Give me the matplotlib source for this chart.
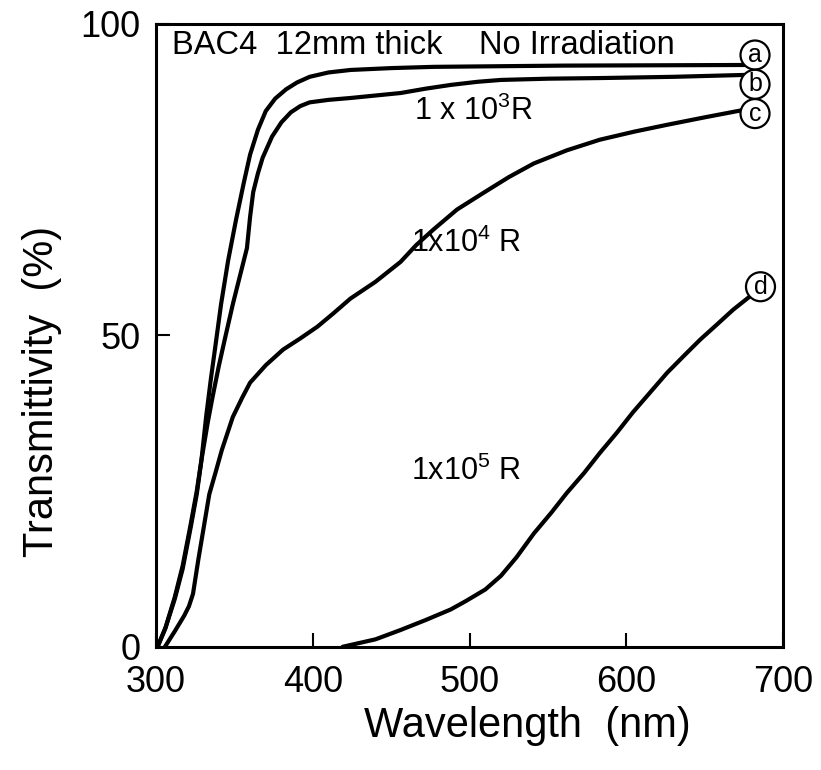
import matplotlib
matplotlib.use("Agg")
import matplotlib.pyplot as plt

FACE = "Liberation Sans"
plt.rcParams["font.family"] = [FACE, "DejaVu Sans"]
plt.rcParams["mathtext.fontset"] = "custom"
plt.rcParams["mathtext.rm"] = FACE
plt.rcParams["mathtext.it"] = FACE
plt.rcParams["mathtext.default"] = "rm"

# Transmission spectra of BAC4 glass (12 mm) after different gamma doses
wl_a = [301, 306, 312, 317, 322, 326, 329, 332, 335, 338, 341.5, 346, 351, 356, 360, 365,
        370, 376, 383, 390, 398, 410, 424, 450, 477, 560, 676]
tr_a = [0, 3, 8, 13, 19.5, 25, 30, 37, 43, 48.5, 55, 62, 68.5, 74.5, 79, 83,
        86, 88, 89.5, 90.6, 91.5, 92.2, 92.6, 92.9, 93.1, 93.3, 93.4]

wl_b = [301, 306, 312, 317, 322, 326, 329, 333, 336, 340, 344, 349, 354, 358, 360, 362,
        365, 368, 374, 380, 386, 392, 398, 410, 424, 440, 456, 472, 488, 505, 520, 550,
        583, 630, 675]
tr_b = [0, 3, 7.7, 12.5, 19, 24.5, 30, 36, 40, 45, 49.5, 55, 60, 64, 69, 73,
        76, 78.5, 81.9, 84.2, 85.8, 86.8, 87.4, 87.8, 88.1, 88.5, 88.9, 89.6, 90.2, 90.7, 91.0, 91.2,
        91.3, 91.5, 91.8]

wl_c = [305.7, 312, 318, 321, 323.6, 327, 330, 334, 338, 342, 349, 355, 360, 370, 381,
        392, 403, 413, 424, 440, 456, 466, 477, 492, 509, 525, 541, 562, 583, 605,
        626, 650, 675]
tr_c = [0, 2.5, 5, 6.5, 8.5, 14, 18.5, 24.5, 28, 31.6, 36.9, 40, 42.4, 45.2, 47.7,
        49.5, 51.4, 53.5, 55.9, 58.6, 61.8, 64.5, 67.0, 70.2, 72.9, 75.4, 77.6, 79.7, 81.4, 82.7,
        83.8, 85.0, 86.2]

wl_d = [419, 440, 456, 472, 488, 498, 510, 520, 530, 541, 552, 562, 573, 583, 594,
        604, 615, 626, 637, 647, 658, 668, 680]
tr_d = [0, 1.2, 2.7, 4.3, 6, 7.4, 9.2, 11.4, 14.4, 18.2, 21.5, 24.7, 27.9, 31.1, 34.4,
        37.6, 40.8, 44, 46.8, 49.3, 51.8, 54.1, 56.5]

curve_keys = ["a", "b", "c", "d"]
key_pos = [(682, 95.0), (682, 90.3), (682, 85.6), (685.5, 57.8)]

dose_labels = ["1 x 10$^{3}$R", "1x10$^{4}$ R", "1x10$^{5}$ R"]
dose_pos = [(502.6, 85.9), (497.6, 64.8), (497.6, 28.1)]

x_ticks = [300, 400, 500, 600, 700]
y_ticks = [0, 50, 100]

fig = plt.figure(figsize=(8.21, 7.70), dpi=100)
ax = fig.add_axes([0.190, 0.160, 0.764, 0.809])

for wl, tr in [(wl_a, tr_a), (wl_b, tr_b), (wl_c, tr_c), (wl_d, tr_d)]:
    ax.plot(wl, tr, color="black", lw=3.0, solid_capstyle="round",
            solid_joinstyle="round")

for key, (x, y) in zip(curve_keys, key_pos):
    ax.text(x, y, key, ha="center", va="center", fontsize=18,
            bbox=dict(boxstyle="circle,pad=0.1", fc="white", ec="black", lw=1.6),
            zorder=5)

for lab, (x, y) in zip(dose_labels, dose_pos):
    ax.text(x, y, lab, ha="center", va="center", fontsize=22)

ax.text(310, 96.6, "BAC4  12mm thick    No Irradiation", ha="left", va="center",
        fontsize=23.5)

ax.set_xlim(300, 700)
ax.set_ylim(0, 100)
ax.set_xticks(x_ticks)
ax.set_yticks(y_ticks)
ax.tick_params(direction="in", length=10, width=1.5, labelsize=26)
ax.tick_params(axis="x", pad=13)
ax.tick_params(axis="y", pad=11)
for s in ax.spines.values():
    s.set_linewidth(2.2)

ax.set_xlabel("Wavelength  (nm)", fontsize=30)
ax.set_ylabel("Transmittivity  (%)", fontsize=30)
ax.xaxis.set_label_coords(0.592, -0.095)
ax.yaxis.set_label_coords(-0.15, 0.41)

fig.savefig("out.png", dpi=100)
